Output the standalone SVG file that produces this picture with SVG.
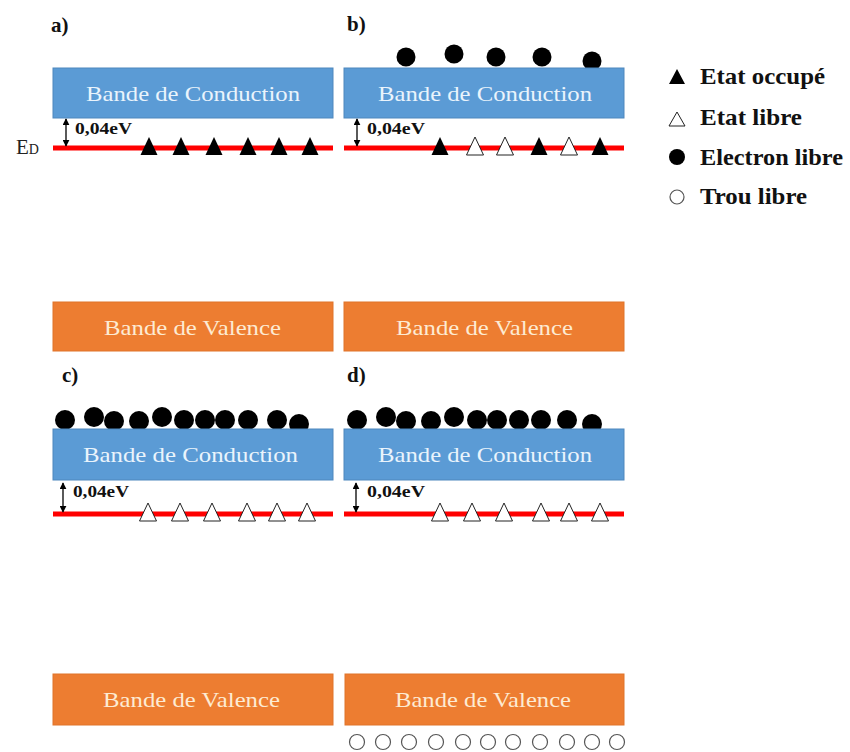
<svg xmlns="http://www.w3.org/2000/svg" width="850" height="752" viewBox="0 0 850 752">
<style>
.cb{fill:#5b9bd5;stroke:#4f87bd;stroke-width:1}
.vb{fill:#ed7d31;stroke:#e0742b;stroke-width:1}
.ct{font-family:"Liberation Serif","Times New Roman",serif;font-size:21px;fill:#eaf4fc}
.vt{font-family:"Liberation Serif","Times New Roman",serif;font-size:21px;fill:#fdebd3}
.lbl{font-family:"Liberation Serif","Times New Roman",serif;font-size:21px;font-weight:bold;fill:#111}
.ev{font-family:"Liberation Serif","Times New Roman",serif;font-size:16px;font-weight:bold;fill:#111}
.leg{font-family:"Liberation Serif","Times New Roman",serif;font-size:23px;font-weight:bold;fill:#111}
.red{stroke:#ff0000;stroke-width:5}
.full{fill:#000}
.empty{fill:#fff;stroke:#222;stroke-width:1}
.el{fill:#000}
.hole{fill:#fff;stroke:#555;stroke-width:1.2}
.arr{stroke:#000;stroke-width:1.3;fill:none;marker-start:url(#ah);marker-end:url(#ah)}
</style>
<defs>
<marker id="ah" viewBox="0 0 10 10" refX="9" refY="5" markerWidth="7" markerHeight="7" orient="auto-start-reverse" markerUnits="userSpaceOnUse">
<path d="M0,0 L10,5 L0,10 Z" fill="#000"/>
</marker>
<path id="tri" d="M0,-11 L8.5,7 L-8.5,7 Z"/>
</defs>
<rect width="850" height="752" fill="#fff"/>

<g id="panel-a">
<text class="lbl" x="51" y="32">a)</text>
<rect class="cb" x="53" y="68" width="280" height="50"/>
<text class="ct" x="86" y="101" textLength="214" lengthAdjust="spacingAndGlyphs">Bande de Conduction</text>
<line class="red" x1="53" y1="148" x2="333" y2="148"/>
<text class="ev" x="75" y="134" textLength="57" lengthAdjust="spacingAndGlyphs">0,04eV</text>
<text x="16" y="154" font-family="Liberation Serif, serif" font-size="21" fill="#222">E<tspan font-size="14">D</tspan></text>
<use href="#tri" class="full" x="149" y="148"/>
<use href="#tri" class="full" x="181" y="148"/>
<use href="#tri" class="full" x="214" y="148"/>
<use href="#tri" class="full" x="248" y="148"/>
<use href="#tri" class="full" x="279" y="148"/>
<use href="#tri" class="full" x="310" y="148"/>
</g>

<g id="panel-b">
<text class="lbl" x="347" y="31">b)</text>
<circle class="el" cx="406" cy="57" r="9.5"/>
<circle class="el" cx="454" cy="54" r="9.5"/>
<circle class="el" cx="496" cy="57" r="9.5"/>
<circle class="el" cx="542" cy="57" r="9.5"/>
<circle class="el" cx="592" cy="61" r="9.5"/>
<rect class="cb" x="344" y="68" width="280" height="50"/>
<text class="ct" x="378" y="101" textLength="214" lengthAdjust="spacingAndGlyphs">Bande de Conduction</text>
<line class="red" x1="344" y1="148" x2="624" y2="148"/>
<text class="ev" x="367" y="134" textLength="58" lengthAdjust="spacingAndGlyphs">0,04eV</text>
<use href="#tri" class="full" x="440" y="148"/>
<use href="#tri" class="empty" x="475" y="148"/>
<use href="#tri" class="empty" x="505" y="148"/>
<use href="#tri" class="full" x="539" y="148"/>
<use href="#tri" class="empty" x="569" y="148"/>
<use href="#tri" class="full" x="600" y="148"/>
</g>

<g id="valence-a">
<rect class="vb" x="53" y="302" width="280" height="49"/>
<text class="vt" x="104" y="335" textLength="177" lengthAdjust="spacingAndGlyphs">Bande de Valence</text>
</g>
<g id="valence-b">
<rect class="vb" x="344" y="302" width="280" height="49"/>
<text class="vt" x="396" y="335" textLength="177" lengthAdjust="spacingAndGlyphs">Bande de Valence</text>
</g>

<g id="panel-c">
<text class="lbl" x="62" y="382">c)</text>
<circle class="el" cx="65" cy="420" r="10"/>
<circle class="el" cx="94" cy="417" r="10"/>
<circle class="el" cx="114" cy="421" r="10"/>
<circle class="el" cx="139" cy="421" r="10"/>
<circle class="el" cx="162" cy="417" r="10"/>
<circle class="el" cx="184" cy="420" r="10"/>
<circle class="el" cx="205" cy="420" r="10"/>
<circle class="el" cx="225" cy="420" r="10"/>
<circle class="el" cx="248" cy="420" r="10"/>
<circle class="el" cx="277" cy="420" r="10"/>
<circle class="el" cx="299" cy="424" r="10"/>
<rect class="cb" x="53" y="429" width="280" height="51"/>
<text class="ct" x="83" y="462" textLength="215" lengthAdjust="spacingAndGlyphs">Bande de Conduction</text>
<line class="red" x1="53" y1="514" x2="333" y2="514"/>
<text class="ev" x="73" y="497" textLength="56" lengthAdjust="spacingAndGlyphs">0,04eV</text>
<use href="#tri" class="empty" x="148" y="514"/>
<use href="#tri" class="empty" x="180" y="514"/>
<use href="#tri" class="empty" x="212" y="514"/>
<use href="#tri" class="empty" x="247" y="514"/>
<use href="#tri" class="empty" x="277" y="514"/>
<use href="#tri" class="empty" x="307" y="514"/>
</g>

<g id="panel-d">
<text class="lbl" x="347" y="382">d)</text>
<circle class="el" cx="357" cy="420" r="10"/>
<circle class="el" cx="386" cy="417" r="10"/>
<circle class="el" cx="406" cy="421" r="10"/>
<circle class="el" cx="431" cy="421" r="10"/>
<circle class="el" cx="454" cy="417" r="10"/>
<circle class="el" cx="477" cy="420" r="10"/>
<circle class="el" cx="497" cy="420" r="10"/>
<circle class="el" cx="519" cy="420" r="10"/>
<circle class="el" cx="541" cy="420" r="10"/>
<circle class="el" cx="567" cy="420" r="10"/>
<circle class="el" cx="592" cy="424" r="10"/>
<rect class="cb" x="344" y="429" width="280" height="51"/>
<text class="ct" x="378" y="462" textLength="214" lengthAdjust="spacingAndGlyphs">Bande de Conduction</text>
<line class="red" x1="344" y1="514" x2="624" y2="514"/>
<text class="ev" x="367" y="497" textLength="58" lengthAdjust="spacingAndGlyphs">0,04eV</text>
<use href="#tri" class="empty" x="440" y="514"/>
<use href="#tri" class="empty" x="472" y="514"/>
<use href="#tri" class="empty" x="504" y="514"/>
<use href="#tri" class="empty" x="541" y="514"/>
<use href="#tri" class="empty" x="569" y="514"/>
<use href="#tri" class="empty" x="600" y="514"/>
</g>

<g id="valence-c">
<rect class="vb" x="53" y="674" width="280" height="51"/>
<text class="vt" x="103" y="707" textLength="177" lengthAdjust="spacingAndGlyphs">Bande de Valence</text>
</g>
<g id="valence-d">
<rect class="vb" x="345" y="674" width="279" height="51"/>
<text class="vt" x="395" y="707" textLength="176" lengthAdjust="spacingAndGlyphs">Bande de Valence</text>
<circle class="hole" cx="357" cy="742" r="7.5"/>
<circle class="hole" cx="383" cy="742" r="7.5"/>
<circle class="hole" cx="409" cy="742" r="7.5"/>
<circle class="hole" cx="436" cy="742" r="7.5"/>
<circle class="hole" cx="463" cy="742" r="7.5"/>
<circle class="hole" cx="488" cy="742" r="7.5"/>
<circle class="hole" cx="513" cy="742" r="7.5"/>
<circle class="hole" cx="540" cy="742" r="7.5"/>
<circle class="hole" cx="567" cy="742" r="7.5"/>
<circle class="hole" cx="592" cy="742" r="7.5"/>
<circle class="hole" cx="617" cy="742" r="7.5"/>
</g>

<g id="legend">
<path class="full" d="M669,84 L685,84 L677,69 Z"/>
<text class="leg" x="700" y="84" textLength="125" lengthAdjust="spacingAndGlyphs">Etat occupé</text>
<path class="empty" d="M669,126 L685,126 L677,112 Z"/>
<text class="leg" x="700" y="125" textLength="102" lengthAdjust="spacingAndGlyphs">Etat libre</text>
<circle class="el" cx="677" cy="157" r="8"/>
<text class="leg" x="700" y="165" textLength="143" lengthAdjust="spacingAndGlyphs">Electron libre</text>
<circle class="hole" cx="677" cy="197" r="7"/>
<text class="leg" x="700" y="204" textLength="107" lengthAdjust="spacingAndGlyphs">Trou libre</text>
</g>

<g id="connectors">
<line class="arr" x1="66" y1="119" x2="66" y2="146"/>
<line class="arr" x1="357" y1="119" x2="357" y2="146"/>
<line class="arr" x1="63" y1="483" x2="63" y2="512"/>
<line class="arr" x1="356" y1="483" x2="356" y2="512"/>
</g>
</svg>
